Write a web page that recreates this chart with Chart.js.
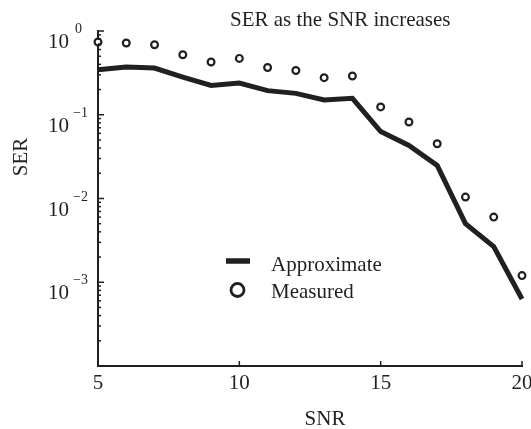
<!DOCTYPE html>
<html>
<head>
<meta charset="utf-8">
<script src="https://cdn.jsdelivr.net/npm/chart.js@4/dist/chart.umd.min.js"></script>
<style>
  html, body { margin: 0; padding: 0; background: #fff; }
  #wrap { position: relative; width: 531px; height: 429px; }
</style>
</head>
<body>
<div id="wrap"><canvas id="serChart"></canvas></div>
<script>
const snr = [5, 6, 7, 8, 9, 10, 11, 12, 13, 14, 15, 16, 17, 18, 19, 20];
const approximate = [0.345, 0.371, 0.361, 0.282, 0.224, 0.239, 0.194, 0.180, 0.150, 0.157, 0.063, 0.043, 0.0248, 0.0050, 0.00267, 0.00063];
const measured = [0.74, 0.72, 0.686, 0.521, 0.426, 0.471, 0.367, 0.338, 0.277, 0.290, 0.124, 0.0818, 0.0451, 0.0104, 0.0060, 0.0012];
const xTicks = [5, 10, 15, 20];
const yExponents = [0, -1, -2, -3];

const INK = '#231f20';
const SERIF = '"Liberation Serif", "Times New Roman", serif';

// ticks point inward and exponents are drawn as superscripts, so the
// axis decorations are painted here instead of by the scales
const axisDecor = {
  id: 'axisDecor',
  afterDraw(chart) {
    const { ctx, chartArea, scales } = chart;
    const x = scales.x;
    const y = scales.y;
    ctx.save();
    ctx.strokeStyle = INK;
    ctx.fillStyle = INK;
    ctx.lineWidth = 1.5;

    // x ticks + labels
    ctx.font = `21px ${SERIF}`;
    ctx.textAlign = 'center';
    ctx.textBaseline = 'alphabetic';
    xTicks.forEach((v) => {
      const px = x.getPixelForValue(v);
      ctx.beginPath();
      ctx.moveTo(px, chartArea.bottom);
      ctx.lineTo(px, chartArea.bottom - 5);
      ctx.stroke();
      ctx.fillText(String(v), px, chartArea.bottom + 23);
    });

    // y ticks: decades long, 2..9 short
    for (let e = -4; e <= 0; e++) {
      const py = y.getPixelForValue(Math.pow(10, e));
      ctx.beginPath();
      ctx.moveTo(chartArea.left, py);
      ctx.lineTo(chartArea.left + 6, py);
      ctx.stroke();
      if (e === 0) continue;
      for (let m = 2; m <= 9; m++) {
        const pm = y.getPixelForValue(m * Math.pow(10, e));
        ctx.beginPath();
        ctx.moveTo(chartArea.left, pm);
        ctx.lineTo(chartArea.left + 3, pm);
        ctx.stroke();
      }
    }

    // y labels: 10 with superscript exponent
    yExponents.forEach((e) => {
      const py = y.getPixelForValue(Math.pow(10, e));
      ctx.font = `21px ${SERIF}`;
      ctx.textAlign = 'right';
      ctx.fillText('10', 69, py + 17);
      ctx.font = `14px ${SERIF}`;
      ctx.textAlign = 'left';
      const exp = e === 0 ? '0' : '\u2212' + String(-e);
      ctx.fillText(exp, e === 0 ? 75 : 73, py + 2);
    });

    // title and axis titles
    ctx.font = `21px ${SERIF}`;
    ctx.textAlign = 'left';
    ctx.fillText('SER as the SNR increases', 230, 26);
    ctx.textAlign = 'center';
    ctx.fillText('SNR', 325, 425);
    ctx.save();
    ctx.translate(27, 157);
    ctx.rotate(-Math.PI / 2);
    ctx.fillText('SER', 0, 0);
    ctx.restore();

    // legend
    ctx.lineWidth = 5.5;
    ctx.beginPath();
    ctx.moveTo(226, 261);
    ctx.lineTo(250, 261);
    ctx.stroke();
    ctx.lineWidth = 2.8;
    ctx.beginPath();
    ctx.arc(237.5, 290, 6.5, 0, Math.PI * 2);
    ctx.stroke();
    ctx.textAlign = 'left';
    ctx.fillText('Approximate', 271, 271);
    ctx.fillText('Measured', 271, 298);

    ctx.restore();
  },
};

const ctx = document.getElementById('serChart').getContext('2d');
new Chart(ctx, {
  type: 'line',
  data: {
    datasets: [
      {
        label: 'Approximate',
        data: snr.map((s, i) => ({ x: s, y: approximate[i] })),
        borderColor: INK,
        borderWidth: 5,
        pointRadius: 0,
        fill: false,
        tension: 0,
        clip: false,
      },
      {
        label: 'Measured',
        data: snr.map((s, i) => ({ x: s, y: measured[i] })),
        showLine: false,
        pointRadius: 3.4,
        pointBorderWidth: 2.2,
        pointBorderColor: INK,
        pointBackgroundColor: '#fff',
        clip: false,
      },
    ],
  },
  options: {
    responsive: true,
    maintainAspectRatio: false,
    animation: false,
    layout: { padding: { left: 98, right: 9, top: 31, bottom: 63 } },
    scales: {
      x: {
        type: 'linear',
        min: 5,
        max: 20,
        grid: { display: false, drawTicks: false },
        border: { display: true, color: INK, width: 2 },
        ticks: { display: false },
      },
      y: {
        type: 'logarithmic',
        min: 1e-4,
        max: 1,
        grid: { display: false, drawTicks: false },
        border: { display: true, color: INK, width: 2 },
        ticks: { display: false },
      },
    },
    plugins: {
      legend: { display: false },
      tooltip: { enabled: false },
    },
  },
  plugins: [axisDecor],
});
</script>
</body>
</html>
